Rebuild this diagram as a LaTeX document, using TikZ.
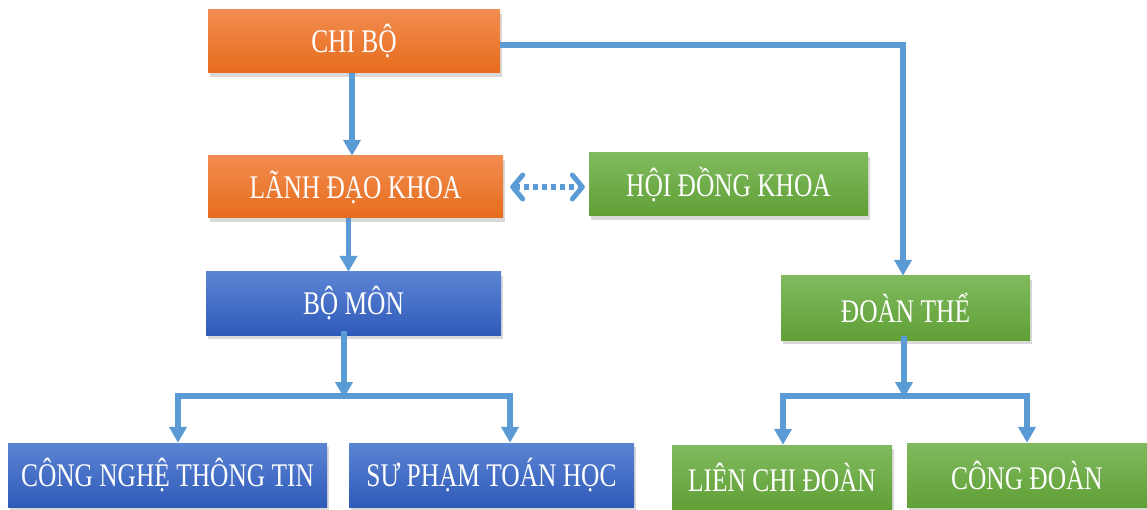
\documentclass[tikz,border=0pt]{standalone}
\usepackage{fontspec}
\setmainfont{Liberation Serif}[FakeStretch=0.77]
\usetikzlibrary{arrows.meta,shadows}
\definecolor{otop}{HTML}{F28C50}
\definecolor{obot}{HTML}{E66C1C}
\definecolor{gtop}{HTML}{80BA5E}
\definecolor{gbot}{HTML}{60A036}
\definecolor{btop}{HTML}{5C84D4}
\definecolor{bbot}{HTML}{2F5BB9}
\definecolor{conncol}{HTML}{5B9BD5}
\tikzset{
  box/.style={rectangle, inner sep=0pt, text=white,
    font=\fontsize{33}{38}\selectfont,
    drop shadow={opacity=0.3, shadow xshift=2pt, shadow yshift=-4pt}},
  obox/.style={box, top color=otop, bottom color=obot},
  gbox/.style={box, top color=gtop, bottom color=gbot},
  bbox/.style={box, top color=btop, bottom color=bbot},
  conn/.style={draw=conncol, line width=5.5pt, -{Triangle[width=17pt,length=16pt]}},
  bar/.style={draw=conncol, line width=5.5pt, line cap=rect},
  dotconn/.style={draw=conncol, line width=5.5pt, dash pattern=on 5pt off 4pt,
    {Straight Barb[length=10pt,width=24pt,line width=5pt,round]}-{Straight Barb[length=10pt,width=24pt,line width=5pt,round]}}
}
\begin{document}
\begin{tikzpicture}[x=1pt,y=-1pt]
\useasboundingbox (0,0) rectangle (1147,510);
\node[obox, minimum width=292pt, minimum height=63pt] (chibo) at (354,41.5) {CHI BỘ};
\node[obox, minimum width=295pt, minimum height=62pt] (lanhdao) at (355.5,187) {LÃNH ĐẠO KHOA};
\node[gbox, minimum width=279pt, minimum height=63pt] (hoidong) at (728.5,184.5) {HỘI ĐỒNG KHOA};
\node[bbox, minimum width=295pt, minimum height=63pt] (bomon) at (353.5,303.5) {BỘ MÔN};
\node[gbox, minimum width=249pt, minimum height=64pt] (doanthe) at (905.5,308) {ĐOÀN THỂ};
\node[bbox, minimum width=319pt, minimum height=64pt] (cntt) at (167.5,475) {CÔNG NGHỆ THÔNG TIN};
\node[bbox, minimum width=285pt, minimum height=64pt] (sptoan) at (491.5,475) {SƯ PHẠM TOÁN HỌC};
\node[gbox, minimum width=220pt, minimum height=64pt] (lcd) at (782,477) {LIÊN CHI ĐOÀN};
\node[gbox, minimum width=240pt, minimum height=64pt] (congdoan) at (1027,475) {CÔNG ĐOÀN};
% connectors
\draw[conn] ([xshift=-2pt]chibo.south) -- ([xshift=-2pt]chibo.south |- lanhdao.north);
\coordinate (c1) at (903,45);
\draw[conn] (chibo.east |- c1) -- (c1) -- (c1 |- doanthe.north);
\draw[dotconn] ([xshift=7pt]lanhdao.east) -- ([xshift=-4pt]hoidong.west |- lanhdao.east);
\draw[conn] ([xshift=-7pt]lanhdao.south) -- ([xshift=-7pt]lanhdao.south |- bomon.north);
% bomon branch
\coordinate (b1) at (344,396);
\coordinate (b2) at (178,396);
\coordinate (b3) at (510,396);
\draw[conn] ([yshift=4pt]b1 |- bomon.south) -- ([yshift=-2pt]b1);
\draw[bar] (b2) -- (b3);
\draw[conn] (b2) -- (b2 |- cntt.north);
\draw[conn] (b3) -- (b3 |- sptoan.north);
% doanthe branch
\coordinate (d1) at (904,396);
\coordinate (d2) at (783,396);
\coordinate (d3) at (1027,396);
\draw[conn] ([yshift=4pt]d1 |- doanthe.south) -- ([yshift=-2pt]d1);
\draw[bar] (d2) -- (d3);
\draw[conn] (d2) -- (d2 |- lcd.north);
\draw[conn] (d3) -- (d3 |- congdoan.north);
\end{tikzpicture}
\end{document}
